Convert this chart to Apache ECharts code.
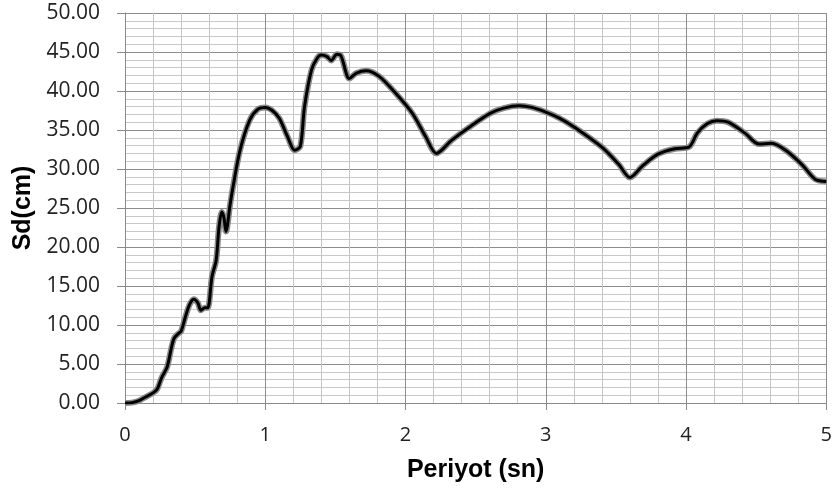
<!DOCTYPE html>
<html>
<head>
<meta charset="utf-8">
<script src="https://cdn.jsdelivr.net/npm/echarts@6/dist/echarts.min.js"></script>
<style>
  html, body { margin: 0; padding: 0; background: #ffffff; }
  #chart { width: 835px; height: 490px; }
</style>
</head>
<body>
<div id="chart"></div>
<script>
// Displacement spectrum: period (s) vs spectral displacement (cm)
const periods = [
  0, 0.05, 0.1, 0.15, 0.2, 0.23, 0.26, 0.3, 0.33, 0.35,
  0.38, 0.4, 0.43, 0.46, 0.49, 0.52, 0.54, 0.57, 0.59, 0.62,
  0.65, 0.67, 0.69, 0.705, 0.72, 0.75, 0.77, 0.82, 0.89, 0.95,
  1.0, 1.05, 1.1, 1.16, 1.21, 1.25, 1.28, 1.33, 1.37, 1.4,
  1.44, 1.47, 1.51, 1.54, 1.6, 1.65, 1.72, 1.81, 1.93, 2.05,
  2.145, 2.22, 2.33, 2.45, 2.6, 2.7, 2.81, 2.9, 3.0, 3.1,
  3.21, 3.4, 3.52, 3.6, 3.69, 3.8, 3.92, 4.02, 4.08, 4.15,
  4.22, 4.3, 4.42, 4.52, 4.61, 4.71, 4.83, 4.92, 5.0
];
const sdValues = [
  0, 0.05, 0.3, 0.8, 1.3, 1.8, 3.2, 4.6, 7.0, 8.3,
  8.9, 9.2, 11.0, 12.6, 13.3, 12.8, 11.9, 12.2, 12.2, 16.2,
  18.3, 22.5, 24.5, 23.8, 22.0, 25.5, 27.7, 32.4, 36.3, 37.7,
  37.9, 37.5, 36.5, 34.1, 32.4, 32.9, 38.0, 42.7, 44.2, 44.6,
  44.4, 43.9, 44.7, 44.5, 41.6, 42.3, 42.6, 41.9, 39.7, 37.1,
  34.1, 32.0, 33.7, 35.3, 37.1, 37.8, 38.1, 37.9, 37.3, 36.5,
  35.3, 32.8, 30.6, 28.9, 30.4, 31.9, 32.6, 32.8, 34.6, 35.8,
  36.2, 36.0, 34.6, 33.2, 33.3, 32.4, 30.5, 28.7, 28.4
];
const xTitle = 'Periyot (sn)';
const yTitle = 'Sd(cm)';

const points = periods.map((t, i) => [t, sdValues[i]]);

const chart = echarts.init(document.getElementById('chart'));
chart.setOption({
  animation: false,
  grid: { left: 125, right: 7, top: 13, bottom: 87 },
  xAxis: {
    type: 'value',
    min: 0, max: 5, interval: 1,
    name: xTitle,
    nameLocation: 'middle',
    nameGap: 55,
    nameTextStyle: { fontFamily: 'Liberation Sans', fontWeight: 'bold', fontSize: 25, color: '#000' },
    axisLine: { show: true, lineStyle: { color: '#8a8a8a', width: 1 } },
    axisTick: { show: true, length: 7, lineStyle: { color: '#8a8a8a' } },
    axisLabel: { margin: 22, fontFamily: 'Open Sans', fontSize: 20, color: '#222' },
    splitLine: { show: true, lineStyle: { color: '#8c8c8c', width: 1 } },
    minorTick: { show: false, splitNumber: 5 },
    minorSplitLine: { show: true, lineStyle: { color: '#c4c4c4', width: 1 } }
  },
  yAxis: {
    type: 'value',
    min: 0, max: 50, interval: 5,
    name: yTitle,
    nameLocation: 'middle',
    nameGap: 87,
    nameRotate: 90,
    nameTextStyle: { fontFamily: 'Liberation Sans', fontWeight: 'bold', fontSize: 25, color: '#000' },
    axisLine: { show: true, lineStyle: { color: '#8a8a8a', width: 1 } },
    axisTick: { show: true, length: 8, lineStyle: { color: '#8a8a8a' } },
    axisLabel: {
      margin: 25, fontFamily: 'Open Sans', fontSize: 21, color: '#222',
      formatter: v => v.toFixed(2)
    },
    splitLine: { show: true, lineStyle: { color: '#8c8c8c', width: 1 } },
    minorTick: { show: false, splitNumber: 5 },
    minorSplitLine: { show: true, lineStyle: { color: '#c8c8c8', width: 1 } }
  },
  series: [
    {
      type: 'line',
      data: points,
      smooth: 0.3,
      symbol: 'none',
      silent: true,
      lineStyle: { color: '#8a8a8a', width: 6 }
    },
    {
      type: 'line',
      data: points,
      smooth: 0.3,
      symbol: 'none',
      silent: true,
      lineStyle: { color: '#000000', width: 3 }
    }
  ]
});
</script>
</body>
</html>
